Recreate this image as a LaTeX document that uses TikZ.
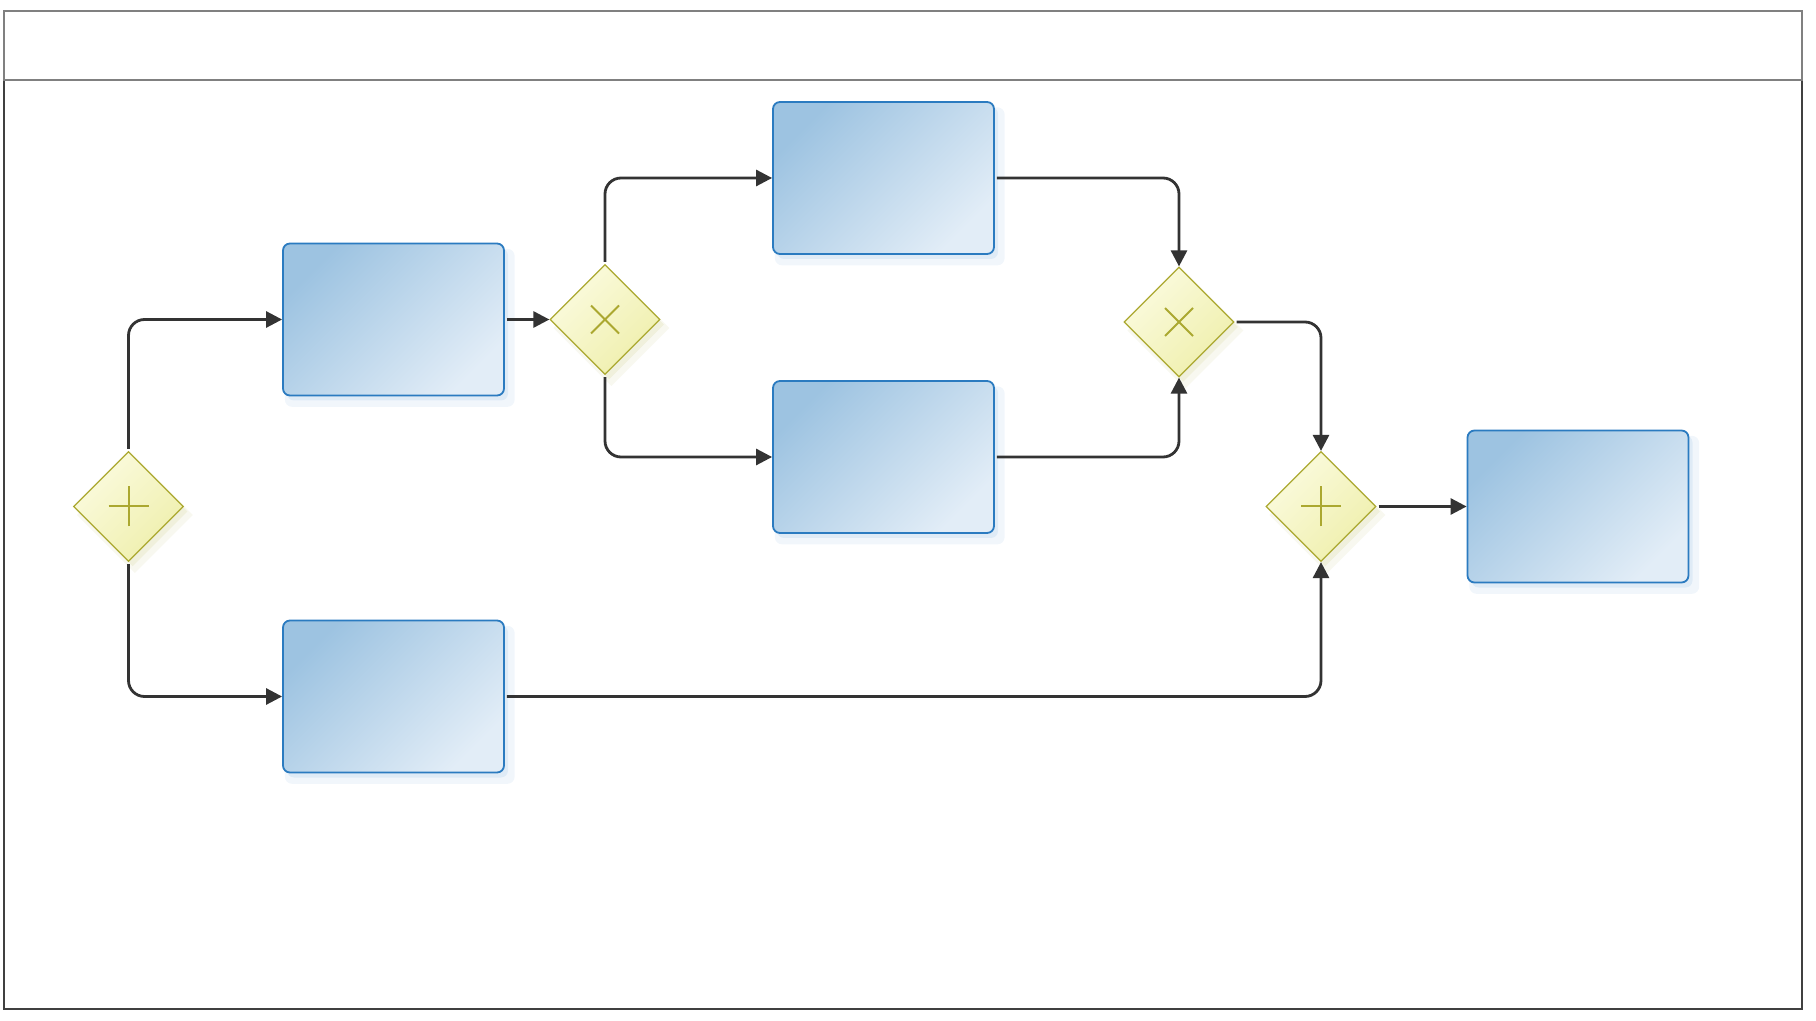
\documentclass[tikz,border=0pt]{standalone}
\usetikzlibrary{shapes.geometric,arrows.meta,shadows}

\definecolor{taskline}{HTML}{2B7BC0}
\definecolor{taskdark}{HTML}{9DC3E1}
\definecolor{tasklight}{HTML}{E2EDF7}
\definecolor{taskshade}{HTML}{8CB8E0}
\definecolor{gateline}{HTML}{ABA830}
\definecolor{gatelight}{HTML}{FBFBDF}
\definecolor{gatedark}{HTML}{EFEFAC}
\definecolor{gateshade}{HTML}{C8C880}
\definecolor{flowcol}{HTML}{333333}

\tikzset{
  task/.style={draw=taskline, line width=0.9pt, rounded corners=3.5pt,
    top color=taskdark, bottom color=tasklight, shading angle=45,
    minimum width=110.5pt, minimum height=76pt, inner sep=0pt,
    drop shadow={shadow xshift=3pt, shadow yshift=-4pt, shadow scale=1.04, fill=taskshade, opacity=0.12},
    drop shadow={shadow xshift=2pt, shadow yshift=-2.5pt, fill=taskshade, opacity=0.18}},
  gateway/.style={diamond, aspect=1, draw=gateline, line width=0.6pt,
    top color=gatelight, bottom color=gatedark, shading angle=45,
    minimum width=55pt, minimum height=55pt, inner sep=0pt,
    drop shadow={shadow xshift=3pt, shadow yshift=-4pt, shadow scale=1.06, fill=gateshade, opacity=0.12},
    drop shadow={shadow xshift=2pt, shadow yshift=-2.5pt, fill=gateshade, opacity=0.18}},
  parallel/.style={gateway, path picture={
    \draw[gateline, line width=1pt]
      ([xshift=-10pt]path picture bounding box.center) -- ([xshift=10pt]path picture bounding box.center)
      ([yshift=-10pt]path picture bounding box.center) -- ([yshift=10pt]path picture bounding box.center);}},
  exclusive/.style={gateway, path picture={
    \draw[gateline, line width=1pt]
      ([shift={(-7pt,-7pt)}]path picture bounding box.center) -- ([shift={(7pt,7pt)}]path picture bounding box.center)
      ([shift={(-7pt,7pt)}]path picture bounding box.center) -- ([shift={(7pt,-7pt)}]path picture bounding box.center);}},
  flow/.style={draw=flowcol, line width=1.4pt, rounded corners=8pt,
    shorten <=1pt, -{Triangle[length=8pt,width=8pt]}}
}

\begin{document}
\begin{tikzpicture}[x=0.5pt,y=-0.5pt]
\useasboundingbox (0,0) rectangle (1816,1021);

\draw[draw=black!75, line width=1pt] (3.5,80.5) rectangle (1801.5,1009);
\draw[draw=black!50, line width=1pt] (3.5,11) rectangle (1801.5,80.5);

\node[parallel] (fork) at (128.5,506.5) {};
\node[task] (taskA) at (393.5,319.5) {};
\node[task] (taskD) at (393.5,696.5) {};
\node[exclusive] (split) at (605,319.5) {};
\node[task] (taskB) at (883.5,178) {};
\node[task] (taskC) at (883.5,457) {};
\node[exclusive] (merge) at (1179,322) {};
\node[parallel] (join) at (1321,506.5) {};
\node[task] (taskE) at (1578,506.5) {};

\draw[flow] (fork.north) |- (taskA.west);
\draw[flow] (fork.south) |- (taskD.west);
\draw[flow] (taskA.east) -- (split.west);
\draw[flow] (split.north) |- (taskB.west);
\draw[flow] (split.south) |- (taskC.west);
\draw[flow] (taskB.east) -| (merge.north);
\draw[flow] (taskC.east) -| (merge.south);
\draw[flow] (merge.east) -| (join.north);
\draw[flow] (taskD.east) -| (join.south);
\draw[flow] (join.east) -- (taskE.west);
\end{tikzpicture}
\end{document}
